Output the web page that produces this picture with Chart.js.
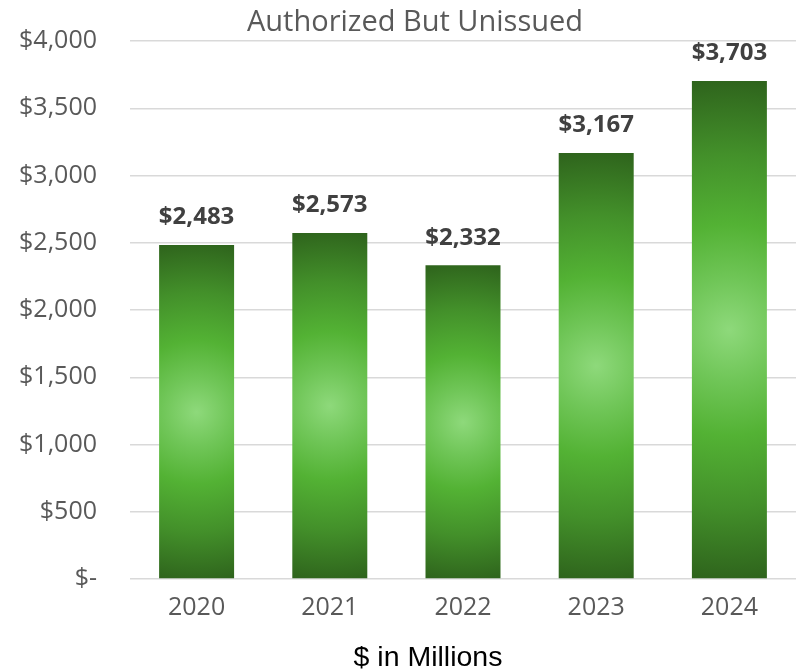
<!DOCTYPE html>
<html>
<head>
<meta charset="utf-8">
<script src="https://cdn.jsdelivr.net/npm/chart.js@4.4.1/dist/chart.umd.min.js"></script>
<style>
  html, body { margin: 0; padding: 0; background: #ffffff; }
  #wrap { width: 796px; height: 672px; }
</style>
</head>
<body>
<div id="wrap"><canvas id="chart" width="796" height="672"></canvas></div>
<script>
// Authorized but unissued amounts, $ in millions
const years = ['2020', '2021', '2022', '2023', '2024'];
const amounts = [2483, 2573, 2332, 3167, 3703];
const yTickValues = [0, 500, 1000, 1500, 2000, 2500, 3000, 3500, 4000];
const chartTitle = 'Authorized But Unissued';
const unitCaption = '$ in Millions';

// Radial shading stops, from the bar centre outwards
const shadeStops = [
  [0.00, '#8ed97b'],
  [0.20, '#70c658'],
  [0.42, '#53b234'],
  [0.70, '#43902a'],
  [1.00, '#2e631c']
];

const BAR_SHARE = 0.563;
const UI_FAMILY = '"Open Sans"';
const UI_FONT = '"Open Sans", "DejaVu Sans", sans-serif';

function money(v) {
  return v === 0 ? '$-' : '$' + v.toLocaleString('en-US');
}

// Circular glow centred on each bar, reaching its corners
function barShade(context) {
  const chart = context.chart;
  const xs = chart.scales.x, ys = chart.scales.y;
  if (!xs || !ys || !chart.chartArea) return '#55b436';
  const i = context.dataIndex;
  const cx = xs.getPixelForValue(i);
  const w = (xs.width / years.length) * BAR_SHARE;
  const top = ys.getPixelForValue(amounts[i]);
  const base = ys.getPixelForValue(0);
  const cy = (top + base) / 2;
  const r = Math.sqrt((w / 2) * (w / 2) + ((base - top) / 2) * ((base - top) / 2));
  const g = chart.ctx.createRadialGradient(cx, cy, 0, cx, cy, r);
  shadeStops.forEach(([t, c]) => g.addColorStop(t, c));
  return g;
}

// Value labels above the bars and the two free-standing captions
const captions = {
  id: 'captions',
  afterDatasetsDraw(chart) {
    const ctx = chart.ctx;
    const meta = chart.getDatasetMeta(0);
    ctx.save();
    ctx.textAlign = 'center';
    ctx.textBaseline = 'middle';
    ctx.font = 'bold 24px ' + UI_FONT;
    ctx.fillStyle = '#404040';
    meta.data.forEach((bar, i) => {
      ctx.fillText(money(amounts[i]), bar.x, bar.y - 27.5);
    });
    ctx.font = '29px ' + UI_FONT;
    ctx.fillStyle = '#595959';
    ctx.fillText(chartTitle, 415, 23);
    ctx.font = '28.5px "Liberation Sans", Arial, sans-serif';
    ctx.fillStyle = '#000000';
    ctx.fillText(unitCaption, 428, 658);
    ctx.restore();
  }
};

function build() {
  new Chart(document.getElementById('chart'), {
    type: 'bar',
    data: {
      labels: years,
      datasets: [{
        data: amounts,
        backgroundColor: barShade,
        borderWidth: 0,
        categoryPercentage: 1,
        barPercentage: BAR_SHARE
      }]
    },
    options: {
      responsive: false,
      animation: false,
      layout: { padding: { top: 41, right: 0, bottom: 0, left: 0 } },
      plugins: {
        legend: { display: false },
        tooltip: { enabled: false },
        title: { display: false }
      },
      scales: {
        x: {
          grid: { display: false, drawTicks: false },
          border: { display: false },
          ticks: {
            color: '#595959',
            font: { family: UI_FONT, size: 25 },
            padding: 14
          },
          afterFit(scale) { scale.height = 93; }
        },
        y: {
          min: 0,
          max: 4000,
          grid: { color: '#d9d9d9', lineWidth: 1.5, drawTicks: false },
          border: { display: false },
          afterBuildTicks(scale) {
            scale.ticks = yTickValues.map(v => ({ value: v }));
          },
          ticks: {
            color: '#595959',
            font: { family: UI_FONT, size: 25 },
            padding: 33,
            callback: v => money(v)
          },
          afterFit(scale) {
            scale.width = 130;
            scale.paddingTop = 0;
            scale.paddingBottom = 0;
          }
        }
      }
    },
    plugins: [captions]
  });
}

const wanted = ['25px ' + UI_FAMILY, 'bold 24px ' + UI_FAMILY, '29px ' + UI_FAMILY, '28px "Liberation Sans"'];
Promise.all(wanted.map(f => document.fonts.load(f).catch(() => null)))
  .then(build, build);
</script>
</body>
</html>
